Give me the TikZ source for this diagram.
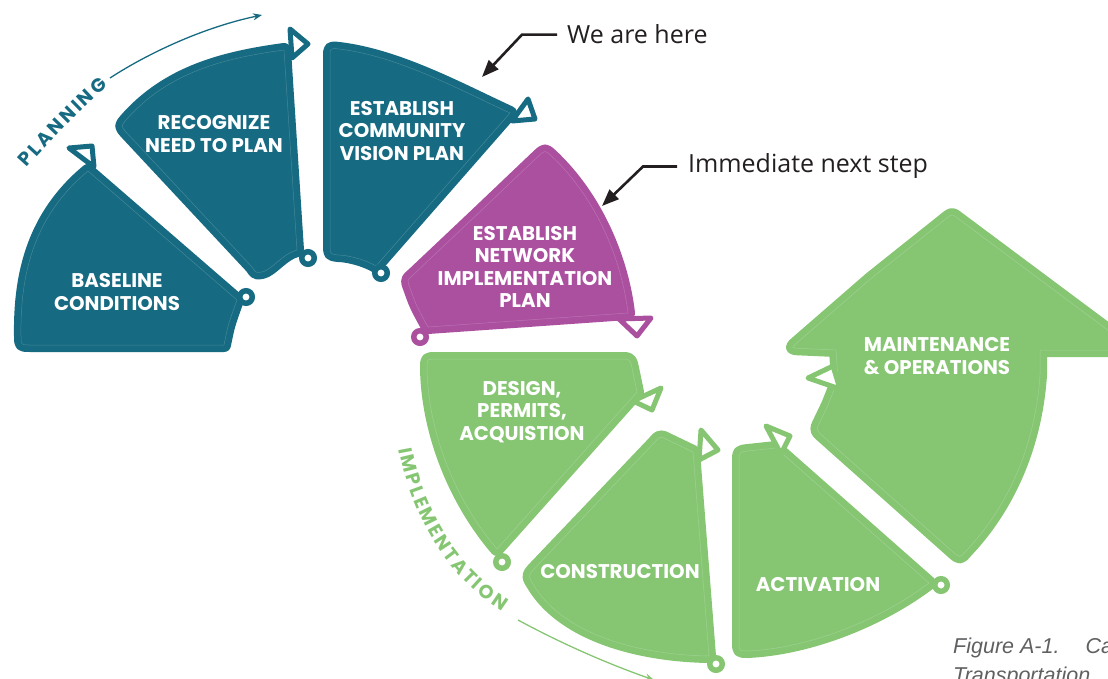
\documentclass[tikz,border=0pt]{standalone}
\usepackage{fontspec}
\usepackage{tikz}
\usetikzlibrary{arrows.meta,decorations.text}

\newfontfamily\stepfont{Poppins}
\newfontfamily\notefont{Open Sans}
\newfontfamily\capfont{Liberation Sans}

\definecolor{planblue}{HTML}{166A81}
\definecolor{nextpurple}{HTML}{AB4F9F}
\definecolor{buildgreen}{HTML}{86C673}
\definecolor{notegray}{HTML}{231F20}
\definecolor{captiongray}{HTML}{5F6062}

\begin{document}
\begin{tikzpicture}[x=1pt, y=-1pt]
  \tikzstyle{stage} = [line width=14pt, line join=round,
    postaction={draw=white, draw opacity=0.2, line width=0.5pt}]
  \tikzstyle{planstage} = [stage, fill=planblue, draw=planblue]
  \tikzstyle{nextstage} = [stage, fill=nextpurple, draw=nextpurple]
  \tikzstyle{buildstage} = [stage, fill=buildgreen, draw=buildgreen]
  \tikzstyle{marker} = [fill=white, line width=5pt, line join=round]
  \tikzstyle{joint} = [circle, fill=white, line width=5.5pt, minimum size=12.5pt, inner sep=0pt]
  \tikzstyle{title} = [text=white, align=center, inner sep=0pt,
    font=\stepfont\bfseries\fontsize{19.8}{22.5}\selectfont]
  \tikzstyle{note} = [text=notegray, inner sep=0pt, font=\notefont\fontsize{25}{30}\selectfont]
  \tikzstyle{callout} = [notegray, line width=2.6pt, -{Triangle[length=17pt,width=13pt]}]
  \tikzstyle{caption} = [text=captiongray, inner sep=0pt, font=\capfont\itshape\fontsize{21.5}{29}\selectfont]

  \useasboundingbox (0,0) rectangle (1108,679);

  % planning stages
  \path[planstage] (120,345) -- (224,345) .. controls (228,325) .. (237,300)
    -- (88,171) .. controls (35,215) and (20,272) .. (21,336)
    .. controls (21,345) .. (30,345) -- cycle;
  \path[planstage] (290.5,150) -- (297,250) .. controls (282,254) and (272,270) .. (262,272)
    .. controls (256,273) .. (252,267) -- (126,132) .. controls (121,126) .. (126,120)
    .. controls (168,72) and (225,58) .. (284,50) -- cycle;
  \path[planstage] (330,149) -- (330,57) .. controls (330,48) .. (339,49)
    .. controls (398,56) and (460,90) .. (510,113)
    -- (376,266) .. controls (362,258) and (345,255) .. (338,255)
    .. controls (330,254) .. (330,245) -- cycle;

  % next step
  \path[nextstage] (476.5,215) -- (538.5,156) .. controls (545,150) .. (551.5,156)
    .. controls (598,200) and (622,262) .. (628,313)
    -- (428,327) .. controls (416,305) .. (410,288) .. controls (407,280) .. (413,275) -- cycle;

  % implementation stages
  \path[buildstage] (528.5,359) -- (621,359) .. controls (630,359) .. (632,368) -- (637,392)
    -- (497,549) .. controls (455,500) and (428,432) .. (427,368)
    .. controls (427,359) .. (436,359) -- cycle;
  \path[buildstage] (594,506) -- (654,443) .. controls (660,436) .. (668,440) -- (693,452)
    -- (709,656) .. controls (640,655) and (563,635) .. (533,584)
    .. controls (528,576) .. (534,569) -- cycle;
  \path[buildstage] (739,551.5) -- (739,461) .. controls (739,452) .. (748,451) -- (776,448)
    -- (929,583) .. controls (880,620) and (810,648) .. (748,651)
    .. controls (739,651) .. (739,642) -- cycle;
  \path[buildstage] (871,278.5) -- (946.5,218.3) .. controls (952,214) .. (957.6,218.2)
    -- (1125,343) -- (1120,350) -- (1040,350)
    -- (1040,375) .. controls (1035,450) and (1005,510) .. (966,551)
    .. controls (960,558) .. (953,552)
    -- (822.7,436) .. controls (816,430) .. (819.9,421.9)
    -- (828,405) -- (838,380) -- (836,350) -- (800,348.4)
    .. controls (791,348) .. (797.8,342.1) -- cycle;

  % arrow markers
  \draw[marker, draw=planblue] (69,148) -- (92,146) -- (94,167) -- cycle;
  \draw[marker, draw=planblue] (290,29) -- (308,44) -- (292,58) -- cycle;
  \draw[marker, draw=planblue] (528,99) -- (535,119) -- (512,121) -- cycle;
  \draw[marker, draw=nextpurple] (619,319) -- (651,318) -- (637,336) -- cycle;
  \draw[marker, draw=buildgreen] (633,401) -- (661,388) -- (652,410) -- cycle;
  \draw[marker, draw=buildgreen] (701,430) -- (718,450) -- (699,460) -- cycle;
  \draw[marker, draw=buildgreen] (766,426) -- (790,436) -- (781,454) -- cycle;
  \draw[marker, draw=buildgreen] (808,378) -- (833,366) -- (840,389) -- cycle;

  % joints
  \node[joint, draw=planblue] (j1) at (246,297) {};
  \node[joint, draw=planblue] (j2) at (308,258) {};
  \node[joint, draw=planblue] (j3) at (381,273) {};
  \node[joint, draw=nextpurple] (j4) at (420,337) {};
  \node[joint, draw=buildgreen] (j5) at (502,562) {};
  \node[joint, draw=buildgreen] (j6) at (716,664) {};
  \node[joint, draw=buildgreen] (j7) at (941,585) {};

  % stage titles
  \node[title] (baseline) at (117,292) {BASELINE\\CONDITIONS};
  \node[title] (recognize) at (214,134) {RECOGNIZE\\NEED TO PLAN};
  \node[title] (vision) at (402,131) {ESTABLISH\\COMMUNITY\\VISION PLAN};
  \node[title] (network) at (525,267) {ESTABLISH\\NETWORK\\IMPLEMENTATION\\PLAN};
  \node[title] (design) at (522,412) {DESIGN,\\PERMITS,\\ACQUISTION};
  \node[title] (construction) at (620,572) {CONSTRUCTION};
  \node[title] (activation) at (818,585) {ACTIVATION};
  \node[title] (maintenance) at (937,356) {MAINTENANCE\\\&~OPERATIONS};

  % phase names
  \path[decorate, decoration={text along path, text align={fit to path}, text color=planblue,
    text={|\stepfont\bfseries\fontsize{19}{19}\selectfont|PLANNING}}]
    (27,168) .. controls (52,140) and (78,112) .. (108,86);
  \path[decorate, decoration={text along path, text align={fit to path}, text color=buildgreen,
    text={|\stepfont\bfseries\fontsize{19}{19}\selectfont|IMPLEMENTATION}}]
    (399,449) .. controls (410,512) and (445,575) .. (502,611);

  \coordinate (planfrom) at (110,78);
  \coordinate (planto) at (262,15);
  \draw[planblue, line width=1.3pt, -{Stealth[length=9pt,width=7pt]}]
    (planfrom) .. controls (150,52) and (205,27) .. (planto);
  \coordinate (buildfrom) at (518,620);
  \coordinate (buildto) at (654,680);
  \draw[buildgreen, line width=1.3pt, -{Stealth[length=9pt,width=7pt]}]
    (buildfrom) .. controls (555,640) and (600,661) .. (buildto);

  % callouts
  \node[note, anchor=base west] (here) at (567,44) {We are here};
  \coordinate (herept) at (482,77);
  \draw[callout] ([xshift=-10pt]here.west) -- ([xshift=-45pt]here.west) -- (herept);
  \node[note, anchor=base west] (next) at (688,173) {Immediate next step};
  \coordinate (nextpt) at (602,206);
  \draw[callout] ([xshift=-11pt]next.west) -- ([xshift=-45pt]next.west) -- (nextpt);

  % caption
  \begin{scope}
    \clip (0,0) rectangle (1108,679);
    \node[caption, anchor=base west] (figno) at (953,653) {Figure A-1.\hspace{26pt}Ca};
    \node[caption, anchor=base west] (figtitle) at (953,682) {Transportation};
  \end{scope}
\end{tikzpicture}
\end{document}
